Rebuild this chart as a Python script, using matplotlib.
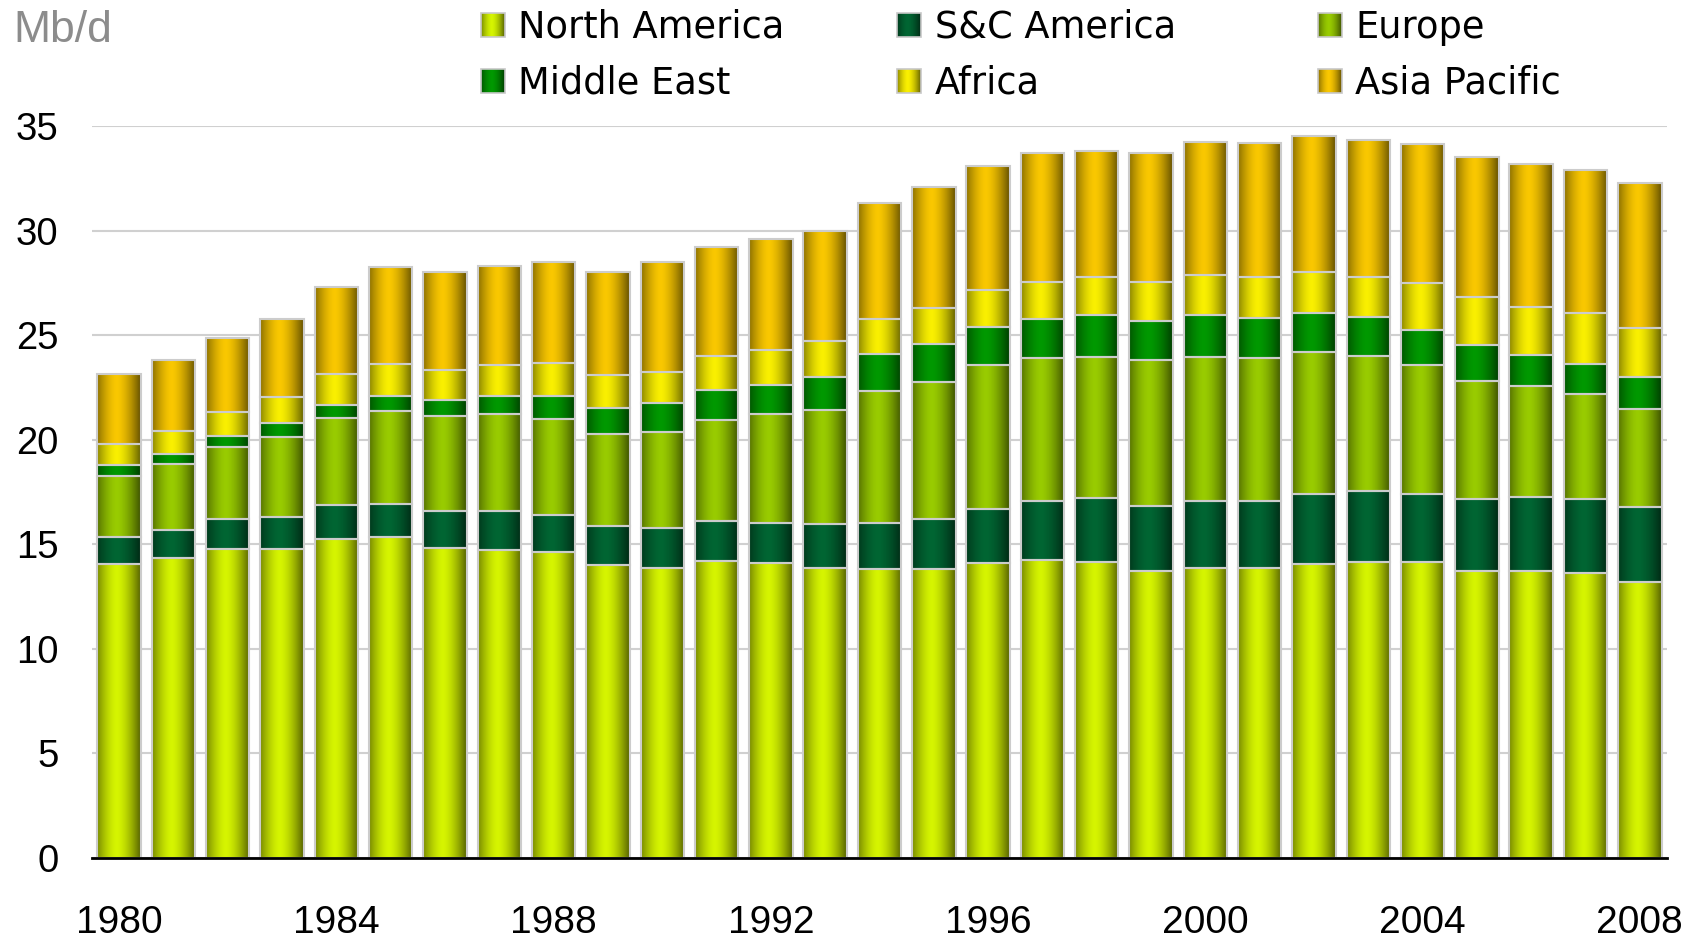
import numpy as np
import matplotlib
matplotlib.use("Agg")
import matplotlib.pyplot as plt
from matplotlib.colors import to_rgb

plt.rcParams['font.family'] = ['Liberation Sans', 'DejaVu Sans']

years = list(range(1980, 2009))
tick_years = [1980, 1984, 1988, 1992, 1996, 2000, 2004, 2008]

# Mb/d
north_america = [14.07, 14.35, 14.79, 14.79, 15.24, 15.34, 14.82, 14.72, 14.61, 13.99,
                 13.88, 14.20, 14.09, 13.88, 13.83, 13.83, 14.09, 14.25, 14.14, 13.73,
                 13.88, 13.88, 14.08, 14.16, 14.16, 13.71, 13.71, 13.63, 13.18]
sc_america = [1.26, 1.35, 1.43, 1.52, 1.63, 1.61, 1.77, 1.87, 1.77, 1.87,
              1.88, 1.92, 1.93, 2.08, 2.19, 2.39, 2.60, 2.81, 3.07, 3.12,
              3.18, 3.18, 3.34, 3.37, 3.26, 3.46, 3.54, 3.54, 3.60]
europe = [2.95, 3.13, 3.42, 3.83, 4.16, 4.42, 4.52, 4.63, 4.63, 4.42,
          4.62, 4.84, 5.20, 5.46, 6.29, 6.56, 6.87, 6.86, 6.76, 6.97,
          6.91, 6.86, 6.77, 6.48, 6.13, 5.66, 5.30, 5.03, 4.68]
middle_east = [0.52, 0.51, 0.52, 0.67, 0.65, 0.73, 0.78, 0.88, 1.09, 1.25,
               1.36, 1.40, 1.40, 1.56, 1.77, 1.82, 1.82, 1.87, 1.98, 1.87,
               1.98, 1.92, 1.86, 1.88, 1.70, 1.69, 1.52, 1.43, 1.53]
africa = [1.01, 1.09, 1.18, 1.25, 1.47, 1.51, 1.46, 1.46, 1.56, 1.56,
          1.50, 1.66, 1.66, 1.72, 1.71, 1.71, 1.76, 1.77, 1.82, 1.87,
          1.92, 1.93, 1.99, 1.88, 2.26, 2.28, 2.27, 2.45, 2.34]
asia_pacific = [3.34, 3.37, 3.52, 3.73, 4.15, 4.63, 4.68, 4.73, 4.84, 4.94,
                5.26, 5.21, 5.31, 5.30, 5.52, 5.78, 5.93, 6.14, 6.03, 6.14,
                6.35, 6.40, 6.50, 6.56, 6.65, 6.70, 6.83, 6.80, 6.93]

labels = ['North America', 'S&C America', 'Europe', 'Middle East', 'Africa', 'Asia Pacific']
colors = ['#d6f500', '#006633', '#99cc00', '#009900', '#faf000', '#fac800']
series = [north_america, sc_america, europe, middle_east, africa, asia_pacific]


def gradient(color, n=80):
    # dark edges, bright band a bit left of centre
    c = np.array(to_rgb(color))
    t = np.linspace(0, 1, n)
    g = 1 - (np.abs(t - 0.45) / 0.55) ** 1.6
    edge = c * 0.4
    img = edge[None, :] + (c - edge)[None, :] * g[:, None]
    return img[None, :, :]


fig = plt.figure(figsize=(17.06, 9.40), dpi=100)
ax = fig.add_axes([92 / 1706, 1 - 858 / 940, (1667 - 92) / 1706, (858 - 126) / 940])

x = np.arange(len(years))
width = 0.8
bottom = np.zeros(len(years))
for vals, col in zip(series, colors):
    vals = np.array(vals)
    bars = ax.bar(x, vals, width, bottom=bottom, facecolor='none',
                  edgecolor='#cccccc', linewidth=1.5, zorder=3)
    img = gradient(col)
    for b in bars:
        x0, y0 = b.get_x(), b.get_y()
        ax.imshow(img, extent=[x0, x0 + b.get_width(), y0, y0 + b.get_height()],
                  aspect='auto', interpolation='bilinear', zorder=2)
    bottom += vals

ax.set_xlim(-0.5, len(years) - 0.5)
ax.set_ylim(0, 35)
ax.set_yticks(range(0, 36, 5))
ax.set_xticks([years.index(y) for y in tick_years])
ax.set_xticklabels([str(y) for y in tick_years])
ax.tick_params(axis='y', length=0, pad=24, labelsize=27.5)
ax.tick_params(axis='x', length=0, pad=34, labelsize=28)
ax.yaxis.grid(True, color='#d0d0d0', linewidth=1.5, zorder=0)
ax.set_axisbelow(True)
for s in ['top', 'right', 'left']:
    ax.spines[s].set_visible(False)
ax.spines['bottom'].set_color('black')
ax.spines['bottom'].set_linewidth(2)
ax.spines['bottom'].set_zorder(4)

# overlay in pixel coords for unit label and legend
lay = fig.add_axes([0, 0, 1, 1], zorder=5)
lay.set_xlim(0, 1706)
lay.set_ylim(940, 0)
lay.axis('off')
lay.text(13, 42, 'Mb/d', fontsize=32, color='#8c8c8c', va='baseline', ha='left')

marker_x = [481, 897, 1318]
text_x = [518, 935, 1355]
row_y = [25, 81]
for i, (lab, col) in enumerate(zip(labels, colors)):
    r, c = divmod(i, 3)
    mx, my = marker_x[c], row_y[r]
    lay.imshow(gradient(col), extent=[mx, mx + 24, my + 12, my - 12],
               aspect='auto', interpolation='bilinear')
    lay.add_patch(plt.Rectangle((mx, my - 12), 24, 24, facecolor='none',
                                edgecolor='#c8c8c8', linewidth=1.2))
    lay.text(text_x[c], my + 13, lab, fontsize=26.5, family=['DejaVu Sans'],
             va='baseline', ha='left', color='black')
lay.set_xlim(0, 1706)
lay.set_ylim(940, 0)

fig.savefig('out.png', dpi=100)
